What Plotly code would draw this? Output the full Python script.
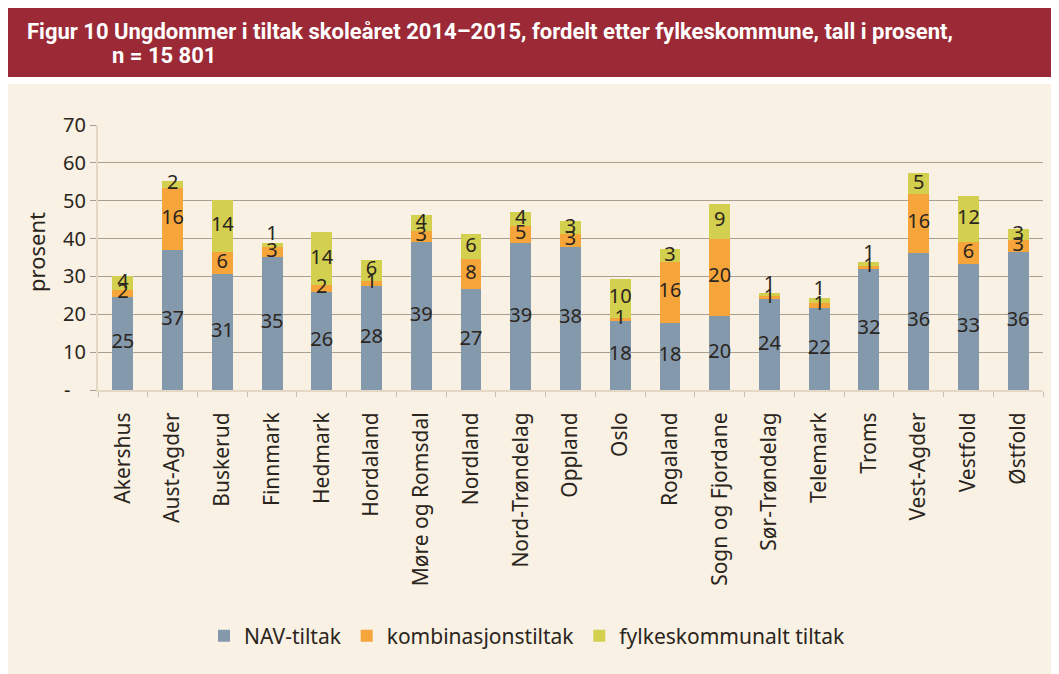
import plotly.graph_objects as go

categories = ["Akershus", "Aust-Agder", "Buskerud", "Finnmark", "Hedmark", "Hordaland",
              "Møre og Romsdal", "Nordland", "Nord-Trøndelag", "Oppland", "Oslo", "Rogaland",
              "Sogn og Fjordane", "Sør-Trøndelag", "Telemark", "Troms", "Vest-Agder",
              "Vestfold", "Østfold"]
nav_tiltak = [24.6, 37.0, 30.6, 35.2, 26.0, 27.6, 39.2, 26.6, 38.8, 37.8, 18.3, 17.8,
              19.6, 24.0, 21.7, 32.0, 36.2, 33.4, 36.4]
kombinasjonstiltak = [1.9, 16.4, 5.8, 2.6, 1.7, 1.2, 2.8, 8.1, 4.6, 3.4, 0.7, 16.0,
                      20.4, 0.7, 1.4, 0.8, 15.6, 5.8, 3.1]
fylkeskommunalt = [3.6, 1.9, 13.8, 1.0, 14.0, 5.6, 4.2, 6.4, 3.6, 3.4, 10.4, 3.4,
                   9.2, 1.0, 1.1, 1.0, 5.4, 12.1, 3.0]
series_names = ["NAV-tiltak", "kombinasjonstiltak", "fylkeskommunalt tiltak"]
y_ticks = [0, 10, 20, 30, 40, 50, 60, 70]
y_ticktext = ["-\u00a0\u00a0\u00a0", "10", "20", "30", "40", "50", "60", "70"]

colors = ["#8599ad", "#f5a53a", "#d3cf4f"]
text_color = "#2b2520"
font_main = "Noto Sans, Open Sans, sans-serif"

series = [nav_tiltak, kombinasjonstiltak, fylkeskommunalt]

fig = go.Figure()
for name, vals, col in zip(series_names, series, colors):
    fig.add_trace(go.Bar(
        x=categories, y=vals, name=name, marker=dict(color=col, line=dict(width=0)),
        hoverinfo="skip",
    ))

# data labels centred in each stacked segment, drawn on top of all bars;
# tiny top segments get their label nudged above the centre (as in the original)
base = [0.0] * len(categories)
for i, vals in enumerate(series):
    centers = [b + v / 2 for b, v in zip(base, vals)]
    if i == len(series) - 1:
        positions = ["top center" if v < 1.5 else "middle center" for v in vals]
    else:
        positions = "middle center"
    fig.add_trace(go.Scatter(
        x=categories, y=centers, mode="text", text=[f"{v:.0f}" for v in vals],
        textposition=positions, showlegend=False, hoverinfo="skip",
        textfont=dict(size=20, color=text_color, family=font_main), cliponaxis=False,
    ))
    base = [b + v for b, v in zip(base, vals)]

OFF = 8  # page body margin
W, H = 1059 - OFF, 674 - OFF
L, R = 98 - OFF, W - (1043 - OFF)
T = 125 - OFF
B = H - (390 - OFF)
pw, ph = W - L - R, H - T - B

def px_x(x):
    return (x - OFF - L) / pw

def px_y(y):
    return (H - B - (y - OFF)) / ph

shapes = [
    dict(type="rect", xref="paper", yref="paper", x0=px_x(8), x1=px_x(1070),
         y0=px_y(84), y1=px_y(690), fillcolor="#f9f1e3", line=dict(width=0), layer="below"),
    dict(type="rect", xref="paper", yref="paper", x0=px_x(8), x1=px_x(1070),
         y0=px_y(77), y1=px_y(6), fillcolor="#9c2a36", line=dict(width=0), layer="below"),
]

title_font = dict(family="Roboto, Liberation Sans Narrow, sans-serif", size=22,
                  color="white", weight=700)
annotations = [
    dict(text="Figur 10 Ungdommer i tiltak skoleåret 2014–2015, fordelt etter fylkeskommune, tall i prosent,",
         xref="paper", yref="paper", x=px_x(25), y=px_y(31), xanchor="left", yanchor="middle",
         showarrow=False, font=title_font),
    dict(text="n = 15 801", xref="paper", yref="paper", x=px_x(110), y=px_y(55),
         xanchor="left", yanchor="middle", showarrow=False, font=title_font),
    dict(text="prosent", xref="paper", yref="paper", x=px_x(36), y=px_y(252), textangle=-90,
         xanchor="center", yanchor="middle", showarrow=False,
         font=dict(family=font_main, size=22, color=text_color)),
]

fig.update_layout(
    width=W, height=H, margin=dict(l=L, r=R, t=T, b=B, autoexpand=False),
    paper_bgcolor="white", plot_bgcolor="rgba(0,0,0,0)",
    barmode="stack", bargap=0.58,
    shapes=shapes, annotations=annotations,
    font=dict(family=font_main, size=20, color=text_color),
    legend=dict(orientation="h", x=px_x(527), y=px_y(636), xanchor="center", yanchor="middle",
                font=dict(size=21, color=text_color, family=font_main), bgcolor="rgba(0,0,0,0)",
                itemclick=False, traceorder="normal"),
    showlegend=True,
)
fig.update_xaxes(
    type="category", range=[-0.5, len(categories) - 0.5],
    tickangle=-90, tickson="boundaries", ticks="outside", ticklen=5,
    tickcolor="#cdbfae", tickwidth=1, showline=True, linecolor="#e4d8c4", linewidth=2,
    tickfont=dict(size=21, family=font_main, color=text_color), showgrid=False,
    ticklabelstandoff=12,
)
fig.update_yaxes(
    range=[0, 70], tickvals=y_ticks, ticktext=y_ticktext, showgrid=True,
    gridcolor="#ad9d8f", gridwidth=1.3, ticks="outside", ticklen=6, tickcolor="#ad9d8f",
    showline=True, linecolor="#e4d8c4", linewidth=2, zeroline=False,
    tickfont=dict(size=20, family=font_main, color=text_color),
)
fig.write_html("out.html")
